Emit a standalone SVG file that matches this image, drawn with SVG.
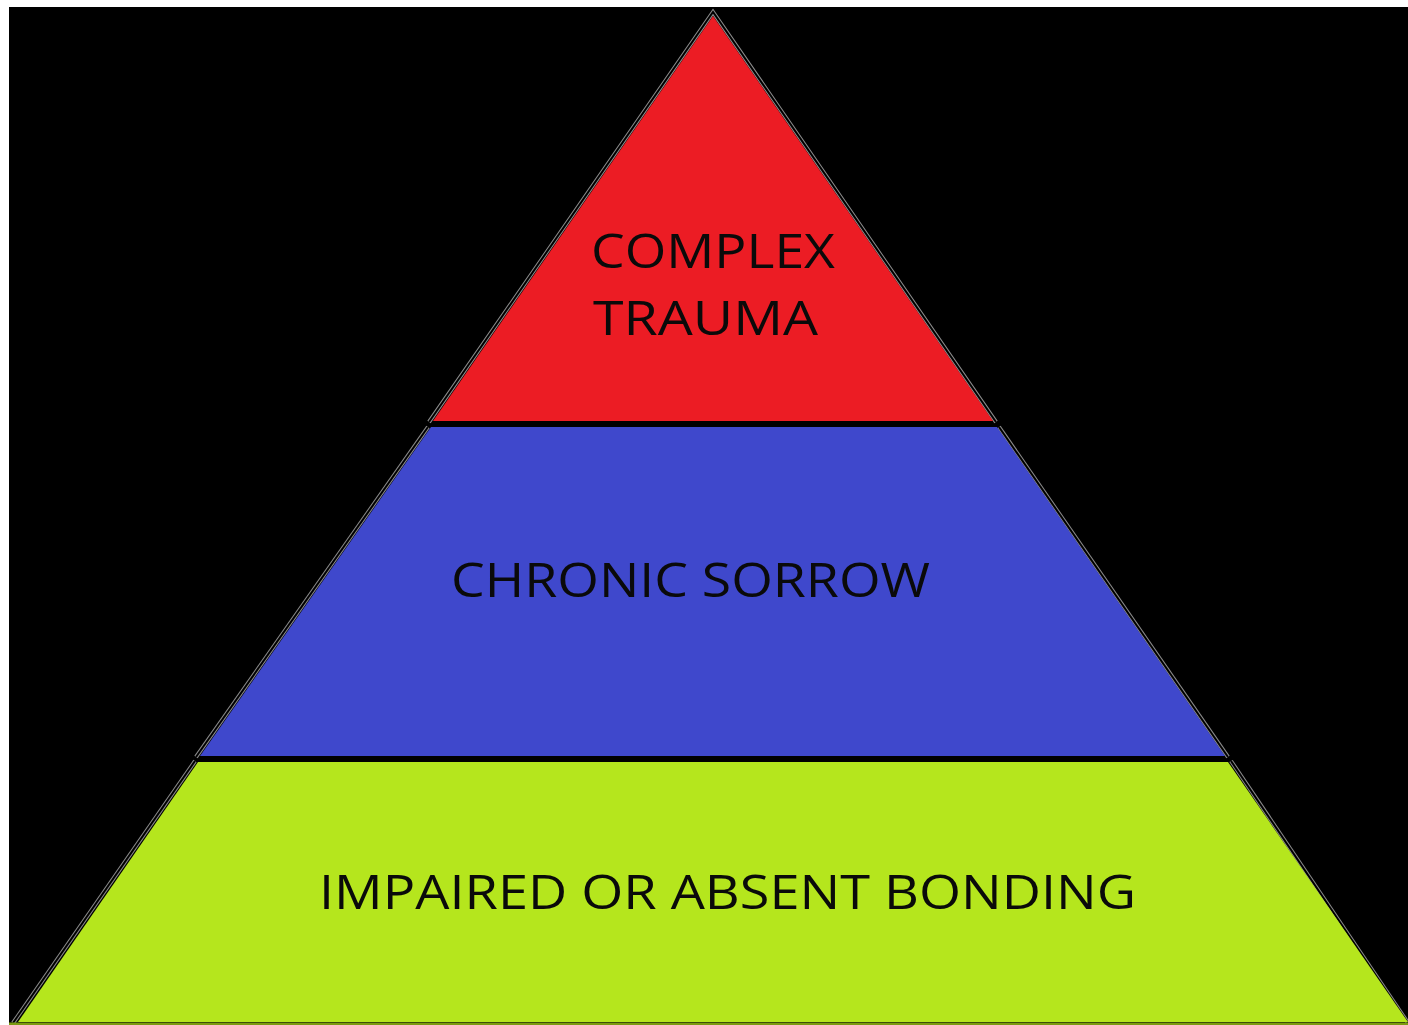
<svg xmlns="http://www.w3.org/2000/svg" width="1408" height="1025" viewBox="0 0 1408 1025">
<style>
.edge{fill:none;stroke:#8c8c8c;stroke-width:4}
.edgecore{fill:none;stroke:#000;stroke-width:2}
.lbl{font-family:"Open Sans","Noto Sans","DejaVu Sans",sans-serif;font-size:47px;fill:#0a0a0a}
</style>
<rect x="0" y="0" width="1408" height="1025" fill="#fff"/>
<rect x="9" y="7" width="1399" height="1018" fill="#000"/>
<g id="edges">
<path class="edge" d="M429,422 L713,12 L996,422"/>
<path class="edge" d="M428,427 L196,757"/>
<path class="edge" d="M999,427 L1228,757"/>
<path class="edge" d="M195,761 L13,1023"/>
<path class="edge" d="M1231,761 L1408,1023"/>
<path class="edgecore" d="M429,422 L713,12 L996,422"/>
<path class="edgecore" d="M428,427 L196,757"/>
<path class="edgecore" d="M999,427 L1228,757"/>
<path class="edgecore" d="M195,761 L13,1023"/>
<path class="edgecore" d="M1231,761 L1408,1023"/>
</g>
<g id="complex-trauma">
<polygon points="713,16 993,421 433,421" fill="#ec1c24"/>
<text class="lbl" x="591" y="268" textLength="244" lengthAdjust="spacingAndGlyphs">COMPLEX</text>
<text class="lbl" x="593" y="335" textLength="225" lengthAdjust="spacingAndGlyphs">TRAUMA</text>
</g>
<g id="chronic-sorrow">
<polygon points="431,427 997,427 1225,756 200,756" fill="#3f48cc"/>
<text class="lbl" x="451" y="597" textLength="479" lengthAdjust="spacingAndGlyphs">CHRONIC SORROW</text>
</g>
<g id="impaired-bonding">
<polygon points="198,762 1228,762 1408,1022 18,1022" fill="#b5e61d"/>
<rect x="9" y="1022.5" width="1399" height="2.5" fill="#7a9a10"/>
<text class="lbl" x="319" y="909" textLength="817" lengthAdjust="spacingAndGlyphs">IMPAIRED OR ABSENT BONDING</text>
</g>
</svg>
